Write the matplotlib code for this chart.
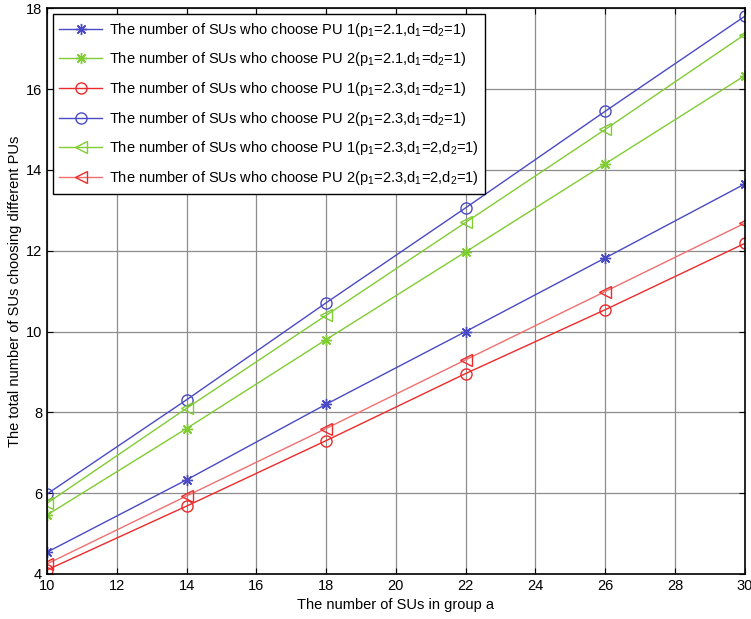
import matplotlib
matplotlib.use('Agg')
import matplotlib.pyplot as plt

plt.rcParams['font.family'] = ['Liberation Sans', 'DejaVu Sans']
plt.rcParams['mathtext.fontset'] = 'custom'
plt.rcParams['mathtext.rm'] = 'Liberation Sans'
plt.rcParams['mathtext.it'] = 'Liberation Sans'

group_a = [10, 14, 18, 22, 26, 30]
pu1_p21 = [4.54, 6.33, 8.2, 10.0, 11.82, 13.65]
pu2_p21 = [5.46, 7.6, 9.8, 11.97, 14.15, 16.33]
pu1_p23 = [4.1, 5.68, 7.3, 8.96, 10.54, 12.18]
pu2_p23 = [5.98, 8.31, 10.71, 13.06, 15.45, 17.8]
pu1_p23_d2 = [5.75, 8.1, 10.4, 12.7, 15.0, 17.35]
pu2_p23_d2 = [4.25, 5.93, 7.6, 9.3, 10.99, 12.68]

labels = [
    r'The number of SUs who choose PU 1(p$_1$=2.1,d$_1$=d$_2$=1)',
    r'The number of SUs who choose PU 2(p$_1$=2.1,d$_1$=d$_2$=1)',
    r'The number of SUs who choose PU 1(p$_1$=2.3,d$_1$=d$_2$=1)',
    r'The number of SUs who choose PU 2(p$_1$=2.3,d$_1$=d$_2$=1)',
    r'The number of SUs who choose PU 1(p$_1$=2.3,d$_1$=2,d$_2$=1)',
    r'The number of SUs who choose PU 2(p$_1$=2.3,d$_1$=2,d$_2$=1)',
]

blue = '#4a4ac4'
green = '#80cc33'
red = '#ee2a2a'
pink = '#f07070'
star = (8, 2, 0)  # asterisk, + and x combined

fig = plt.figure(figsize=(7.51, 6.19), dpi=100)
ax = fig.add_axes([0.0626, 0.0727, 0.929, 0.914])

ms = 8
ax.plot(group_a, pu1_p21, color=blue, marker=star, ms=ms, lw=1, label=labels[0])
ax.plot(group_a, pu2_p21, color=green, marker=star, ms=ms, lw=1, label=labels[1])
ax.plot(group_a, pu1_p23, color=red, marker='o', ms=ms, mfc='none', lw=1, label=labels[2])
ax.plot(group_a, pu2_p23, color=blue, marker='o', ms=ms, mfc='none', lw=1, label=labels[3])
ax.plot(group_a, pu1_p23_d2, color=green, marker='<', ms=ms + 1, mfc='none', lw=1, label=labels[4])
ax.plot(group_a, pu2_p23_d2, color=pink, marker='<', ms=ms + 1, mfc='none', mec=red, lw=1, label=labels[5])

ax.set_xlim(10, 30)
ax.set_ylim(4, 18)
ax.set_xticks(range(10, 31, 2))
ax.set_yticks(range(4, 19, 2))
ax.grid(True, color='#8c8c8c', lw=0.9)
ax.tick_params(direction='in', top=True, right=True, labelsize=10.5, length=4)
for s in ax.spines.values():
    s.set_linewidth(1.2)

ax.set_xlabel('The number of SUs in group a', fontsize=10.5, labelpad=4)
ax.set_ylabel('The total number of SUs choosing different PUs', fontsize=10.5, labelpad=3)

leg = ax.legend(loc='upper left', fontsize=10.5, fancybox=False, edgecolor='black',
                framealpha=1, borderaxespad=0.4, handlelength=2.9, handletextpad=0.5,
                labelspacing=0.8, borderpad=0.45)
leg.get_frame().set_linewidth(1.0)

plt.savefig('out.png', dpi=100)
